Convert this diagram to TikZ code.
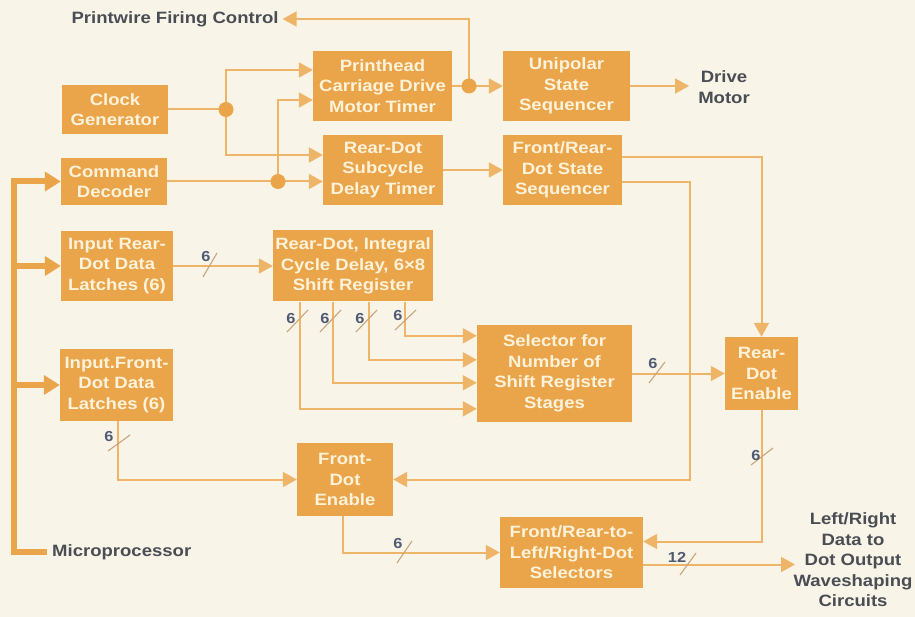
\documentclass[tikz,border=0pt]{standalone}
\usepackage{fontspec}
\setmainfont{Liberation Sans}[FakeStretch=1.13]
\usetikzlibrary{arrows.meta,calc}
\definecolor{bgc}{RGB}{248,244,232}
\definecolor{boxc}{RGB}{234,165,74}
\definecolor{wirec}{RGB}{238,180,104}
\definecolor{boxtxt}{RGB}{253,242,218}
\definecolor{lblc}{RGB}{74,78,84}
\definecolor{numc}{RGB}{80,90,115}
\definecolor{slashc}{RGB}{200,165,125}
\begin{document}
\begin{tikzpicture}[x=1pt,y=-1pt,
 blk/.style={fill=boxc, text=boxtxt, font=\bfseries\fontsize{16.4}{20.5}\selectfont, align=center, inner sep=0pt},
 ext/.style={text=lblc, font=\bfseries\fontsize{16.4}{20.5}\selectfont, align=center, inner sep=0pt},
 wire/.style={draw=wirec, line width=2pt},
 arr/.style={wire, -{Triangle[length=14pt,width=15pt]}},
 bus/.style={draw=boxc, line width=6pt},
 busarr/.style={bus, -{Triangle[length=16pt,width=19pt]}},
 jdot/.style={circle, fill=boxc, minimum size=15pt, inner sep=0pt},
 num/.style={text=numc, font=\bfseries\fontsize{14.5}{14.5}\selectfont, inner sep=0pt},
 slash/.style={draw=slashc, line width=1.1pt}
]
\fill[bgc] (0,0) rectangle (915,617);
\useasboundingbox (0,0) rectangle (915,617);

% blocks
\node[blk, minimum width=106pt, minimum height=49pt] (clk) at (115,109.5) {Clock\\Generator};
\node[blk, minimum width=106pt, minimum height=47pt] (cmd) at (114,181.5) {Command\\Decoder};
\node[blk, minimum width=139pt, minimum height=70pt] (pht) at (382.5,86) {Printhead\\Carriage Drive\\Motor Timer};
\node[blk, minimum width=120pt, minimum height=70pt] (rds) at (383,170) {Rear-Dot\\Subcycle\\Delay Timer};
\node[blk, minimum width=127pt, minimum height=70pt] (uni) at (566.5,86) {Unipolar\\State\\Sequencer};
\node[blk, minimum width=119pt, minimum height=70pt] (frs) at (562.5,170) {Front/Rear-\\Dot State\\Sequencer};
\node[blk, minimum width=112pt, minimum height=70pt] (ird) at (117,266) {Input Rear-\\Dot Data\\Latches (6)};
\node[blk, minimum width=160pt, minimum height=71pt] (srg) at (353,266) {Rear-Dot, Integral\\Cycle Delay, 6×8\\Shift Register};
\node[blk, minimum width=113pt, minimum height=72pt] (ifd) at (116.5,385) {Input.Front-\\Dot Data\\Latches (6)};
\node[blk, minimum width=155pt, minimum height=97pt] (sel) at (554.5,373.5) {Selector for\\Number of\\Shift Register\\Stages};
\node[blk, minimum width=73pt, minimum height=73pt] (red) at (761.5,373.5) {Rear-\\Dot\\Enable};
\node[blk, minimum width=96pt, minimum height=73pt] (fde) at (345,479.5) {Front-\\Dot\\Enable};
\node[blk, minimum width=143pt, minimum height=71pt] (flr) at (571.5,552.5) {Front/Rear-to-\\Left/Right-Dot\\Selectors};

% external labels
\node[ext] (pwf) at (175,19) {Printwire Firing Control};
\node[ext] (drv) at (724,87) {Drive\\Motor};
\node[ext, anchor=west] (mic) at (52,552) {Microprocessor};
\node[ext] (out) at (853,560) {Left/Right\\Data to\\Dot Output\\Waveshaping\\Circuits};

% junction points
\coordinate (j1) at (469,86);
\coordinate (j2) at (226,109.5);
\coordinate (j3) at (278,181.5);
\coordinate (k1) at (690,479.5);
\coordinate (drvtip) at (689,86);
\coordinate (outtip) at (795,564.5);
\coordinate (bx) at (11,0);

% connectors
\draw[wire] (pht.east) -- (j1);
\draw[arr] (j1) -- (uni.west);
\draw[arr] (j1) |- ($(pwf.east)+(4,0)$);
\draw[wire] (clk.east) -- (j2);
\draw[arr] (j2) |- ($(pht.west)+(0,-16)$);
\draw[arr] (j2) |- ($(rds.west)+(0,-15)$);
\draw[arr] (cmd.east) -- (rds.west |- j3);
\draw[arr] (j3) |- ($(pht.west)+(0,14)$);
\draw[arr] (rds) -- (frs);
\draw[arr] ($(frs.east)+(0,-13)$) -| (red.north);
\draw[arr] ($(frs.east)+(0,12)$) -| (k1) -- (fde.east);
\draw[arr] (uni.east) -- (drvtip);
\draw[arr] (ird) -- (srg);
\draw[arr] ($(srg.south west)+(132,0)$) |- ($(sel.north west)+(0,11)$);
\draw[arr] ($(srg.south west)+(96,0)$) |- ($(sel.north west)+(0,35)$);
\draw[arr] ($(srg.south west)+(60,0)$) |- ($(sel.north west)+(0,58)$);
\draw[arr] ($(srg.south west)+(27,0)$) |- ($(sel.north west)+(0,84)$);
\draw[arr] (sel) -- (red);
\draw[arr] (red.south) |- ($(flr.east)+(0,-11)$);
\draw[arr] ($(ifd.south)+(1.5,0)$) |- (fde.west);
\draw[arr] ($(fde.south)+(-2,0)$) |- (flr.west);
\draw[arr] ($(flr.east)+(0,12)$) -- (outtip);

% microprocessor bus
\draw[bus, line join=miter] ($(mic.west)+(-5,0)$) -| (14,178.5);
\draw[busarr] (bx |- cmd.west) -- (cmd.west);
\draw[busarr] (bx |- ird.west) -- (ird.west);
\draw[busarr] (bx |- ifd.west) -- (ifd.west);

% junction dots
\node[jdot] (d1) at (j1) {};
\node[jdot] (d2) at (j2) {};
\node[jdot] (d3) at (j3) {};

% bus-width marks
\draw[slash] (203,277) -- (217,253);
\node[num] (n1) at (206,257) {6};
\draw[slash] (287,332) -- (308,310);
\node[num] (n2) at (291,319) {6};
\draw[slash] (320,332) -- (341,310);
\node[num] (n3) at (325,319) {6};
\draw[slash] (356,332) -- (377,310);
\node[num] (n4) at (360,319) {6};
\draw[slash] (395,330) -- (416,310);
\node[num] (n5) at (398,316) {6};
\draw[slash] (649,383) -- (665,362);
\node[num] (n6) at (653,364) {6};
\draw[slash] (751,465) -- (773,448);
\node[num] (n7) at (756,456) {6};
\draw[slash] (108,451) -- (130,435);
\node[num] (n8) at (109,437) {6};
\draw[slash] (397,563) -- (412,541);
\node[num] (n9) at (398,544) {6};
\draw[slash] (680,575) -- (696,553);
\node[num] (n10) at (677,557) {12};
\end{tikzpicture}
\end{document}
